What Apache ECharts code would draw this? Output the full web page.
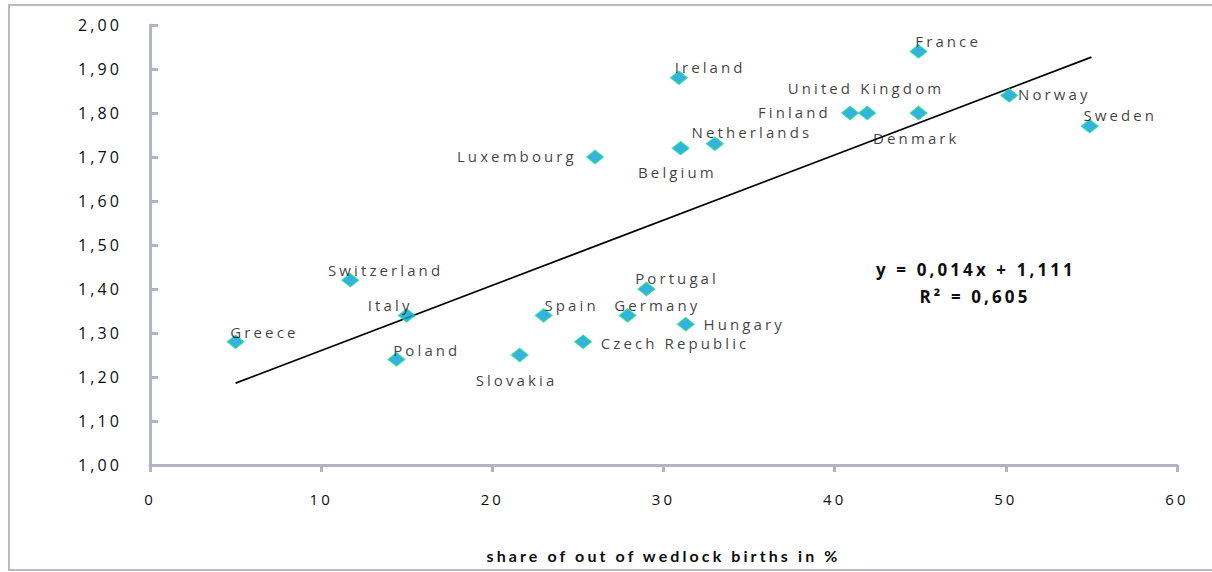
<!DOCTYPE html>
<html>
<head>
<meta charset="utf-8">
<script src="https://cdn.jsdelivr.net/npm/echarts@6/dist/echarts.min.js"></script>
<style>
  html, body { margin: 0; padding: 0; background: #ffffff; }
  #chart { width: 1212px; height: 572px; }
  #chart text { letter-spacing: 3.1px; }
</style>
</head>
<body>
<div id="chart"></div>
<script>
// ---- data ----
const countries = ['Greece', 'Switzerland', 'Italy', 'Poland', 'Portugal', 'Spain', 'Germany', 'Hungary',
  'Czech Republic', 'Slovakia', 'Ireland', 'United Kingdom', 'Finland', 'Netherlands', 'Belgium',
  'Luxembourg', 'France', 'Denmark', 'Norway', 'Sweden'];
const outOfWedlock = [5.0, 11.7, 15.0, 14.4, 29.0, 23.0, 27.9, 31.3,
  25.3, 21.6, 30.9, 41.9, 40.9, 33.0, 31.0,
  26.0, 44.9, 44.9, 50.2, 54.9];
const fertility = [1.28, 1.42, 1.34, 1.24, 1.40, 1.34, 1.34, 1.32,
  1.28, 1.25, 1.88, 1.80, 1.80, 1.73, 1.72,
  1.70, 1.94, 1.80, 1.84, 1.77];
const trendX = [5, 55];
const trendY = [1.186, 1.927];
const xTicks = [0, 10, 20, 30, 40, 50, 60];
const yTicks = ['1,00', '1,10', '1,20', '1,30', '1,40', '1,50', '1,60', '1,70', '1,80', '1,90', '2,00'];
const equationText = 'y = 0,014x + 1,111';
const r2Text = 'R² = 0,605';
const xAxisTitle = 'share of out of wedlock births in %';

// ---- label placement relative to marker centre (style, not data) ----
const labelLayout = {
  'Greece': ['left', -4, -9],
  'Switzerland': ['left', -21, -9],
  'Italy': ['right', 7, -9],
  'Poland': ['left', -2, -8],
  'Portugal': ['left', -10, -10],
  'Spain': ['left', 2, -9],
  'Germany': ['left', -12, -9],
  'Hungary': ['left', 19, 1],
  'Czech Republic': ['left', 19, 2],
  'Slovakia': ['center', -2, 26],
  'Ireland': ['left', -3, -10],
  'United Kingdom': ['center', 0, -24],
  'Finland': ['right', -18, 0],
  'Netherlands': ['left', -22, -11],
  'Belgium': ['center', -2, 25],
  'Luxembourg': ['right', -17, 0],
  'France': ['left', -2, -9],
  'Denmark': ['center', -1, 26],
  'Norway': ['left', 10, 0],
  'Sweden': ['left', -5, -10]
};

const FONT = '"Open Sans", Lato, sans-serif';
const TEXT_COLOR = '#0d0d0d';
const SYM_W = 15, SYM_H = 12;

const scatterData = countries.map((c, i) => {
  const l = labelLayout[c];
  return {
    name: c,
    value: [outOfWedlock[i], fertility[i]],
    label: { align: l[0], position: [SYM_W / 2 + l[1], SYM_H / 2 + l[2]] }
  };
});

const chart = echarts.init(document.getElementById('chart'), null, { renderer: 'svg' });

chart.setOption({
  animation: false,
  backgroundColor: '#ffffff',
  grid: { left: 150, right: 35, top: 25, bottom: 107, containLabel: false },
  xAxis: {
    type: 'value',
    min: 0, max: 60, interval: 10,
    axisLine: { show: true, lineStyle: { color: '#b3b3c6', width: 3 } },
    axisTick: { show: true, inside: false, length: 7, lineStyle: { color: '#b3b3c6', width: 3 } },
    splitLine: { show: false },
    axisLabel: {
      margin: 26, color: TEXT_COLOR, fontFamily: FONT, fontSize: 15,
      formatter: v => String(xTicks[Math.round(v / 10)])
    },
    name: xAxisTitle,
    nameLocation: 'middle',
    nameGap: 82,
    nameTextStyle: { color: TEXT_COLOR, fontFamily: 'Lato, sans-serif', fontSize: 16, fontWeight: 'bold' }
  },
  yAxis: {
    type: 'value',
    min: 1, max: 2, interval: 0.1,
    axisLine: { show: true, lineStyle: { color: '#b3b3c6', width: 3 } },
    axisTick: { show: true, inside: true, length: 8, lineStyle: { color: '#b3b3c6', width: 3 } },
    splitLine: { show: false },
    axisLabel: {
      margin: 28, color: TEXT_COLOR, fontFamily: FONT, fontSize: 16,
      formatter: v => yTicks[Math.round((v - 1) * 10)]
    }
  },
  series: [
    {
      type: 'line',
      data: trendX.map((x, i) => [x, trendY[i]]),
      showSymbol: false,
      symbol: 'none',
      lineStyle: { color: '#000000', width: 1.8 },
      z: 2,
      silent: true
    },
    {
      type: 'scatter',
      data: scatterData,
      symbol: 'diamond',
      symbolSize: [SYM_W, SYM_H],
      itemStyle: { color: '#0a98e8', borderColor: '#12cd9c', borderWidth: 2.2 },
      z: 3,
      label: {
        show: true,
        verticalAlign: 'middle',
        formatter: p => p.name,
        color: TEXT_COLOR,
        fontFamily: FONT,
        fontSize: 15
      },
      labelLayout: { hideOverlap: false }
    }
  ],
  graphic: [
    {
      type: 'rect',
      silent: true,
      shape: { x: 9, y: 5, width: 1215, height: 565 },
      style: { fill: 'none', stroke: '#b8b8c8', lineWidth: 2 },
      z: -10
    },
    {
      type: 'text',
      silent: true,
      x: 976, y: 269,
      style: { text: equationText, align: 'center', verticalAlign: 'middle',
        fill: TEXT_COLOR, font: 'bold 17px ' + FONT }
    },
    {
      type: 'text',
      silent: true,
      x: 975, y: 296,
      style: { text: r2Text, align: 'center', verticalAlign: 'middle',
        fill: TEXT_COLOR, font: 'bold 17px ' + FONT }
    }
  ]
});
</script>
</body>
</html>
